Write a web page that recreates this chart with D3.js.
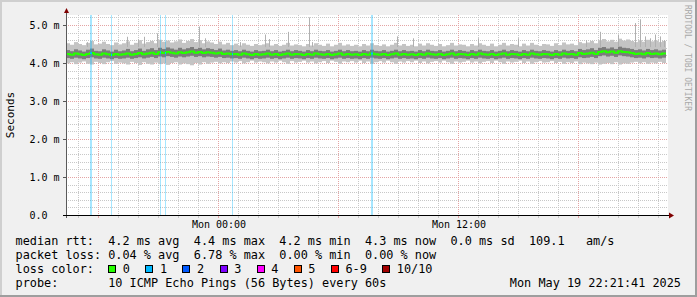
<!DOCTYPE html>
<html>
<head>
<meta charset="utf-8">
<script src="https://cdn.jsdelivr.net/npm/d3@7"></script>
<style>
  html, body { margin: 0; padding: 0; background: #f0f0f0; }
  svg { display: block; }
  text { font-family: "DejaVu Sans Mono", monospace; white-space: pre; }
</style>
</head>
<body>
<svg id="chart" width="697" height="297"></svg>
<script>
// one sample every 12 minutes, 150 samples = 30 hours
var startTime = Date.UTC(2025, 4, 18, 16, 24);
var stepMin = 12;

var median = [
  4.24,4.22,4.25,4.23,4.21,4.24,4.26,4.23,4.22,4.25,
  4.23,4.21,4.24,4.22,4.23,4.25,4.22,4.24,4.26,4.23,
  4.25,4.27,4.24,4.28,4.26,4.29,4.27,4.25,4.28,4.26,
  4.28,4.30,4.27,4.29,4.26,4.28,4.27,4.25,4.27,4.24,
  4.25,4.23,4.24,4.22,4.25,4.23,4.21,4.24,4.22,4.23,
  4.25,4.22,4.24,4.21,4.23,4.25,4.22,4.24,4.23,4.21,
  4.24,4.22,4.25,4.23,4.22,4.24,4.21,4.23,4.25,4.22,
  4.24,4.22,4.23,4.21,4.24,4.22,4.25,4.23,4.22,4.24,
  4.21,4.23,4.25,4.22,4.24,4.22,4.23,4.21,4.24,4.22,
  4.25,4.23,4.22,4.24,4.21,4.23,4.25,4.22,4.24,4.23,
  4.21,4.24,4.22,4.25,4.23,4.22,4.24,4.21,4.23,4.25,
  4.22,4.24,4.23,4.21,4.24,4.22,4.25,4.23,4.22,4.24,
  4.23,4.21,4.24,4.22,4.25,4.23,4.24,4.22,4.26,4.24,
  4.25,4.27,4.24,4.29,4.31,4.28,4.30,4.27,4.31,4.29,
  4.28,4.26,4.24,4.25,4.23,4.26,4.24,4.25,4.23,4.25
];

var smokeHi = [
  4.52,4.48,4.55,4.50,4.47,4.53,4.58,4.49,4.51,4.56,
  4.50,4.47,4.54,4.49,4.52,4.57,4.48,4.53,4.60,4.51,
  4.55,4.58,4.52,4.61,4.56,4.59,4.54,4.57,4.62,4.53,
  4.58,4.63,4.55,4.60,4.52,4.57,4.54,4.50,4.56,4.49,
  4.53,4.47,4.51,4.46,4.52,4.48,4.45,4.50,4.47,4.49,
  4.52,4.46,4.50,4.45,4.48,4.53,4.46,4.49,4.47,4.44,
  4.50,4.46,4.52,4.48,4.45,4.51,4.44,4.48,4.53,4.46,
  4.49,4.45,4.48,4.44,4.50,4.46,4.52,4.47,4.45,4.49,
  4.44,4.48,4.53,4.46,4.50,4.45,4.48,4.44,4.51,4.46,
  4.52,4.48,4.45,4.50,4.44,4.47,4.53,4.46,4.49,4.48,
  4.44,4.50,4.46,4.52,4.48,4.45,4.51,4.44,4.48,4.53,
  4.46,4.50,4.48,4.44,4.51,4.46,4.53,4.48,4.45,4.50,
  4.49,4.45,4.52,4.47,4.54,4.49,4.51,4.47,4.55,4.52,
  4.54,4.58,4.52,4.60,4.63,4.57,4.61,4.56,4.64,4.59,
  4.62,4.58,4.55,4.60,4.56,4.61,4.57,4.59,4.55,4.58
];

var smokeLo = [
  3.99,4.02,3.97,4.01,4.04,3.98,3.96,4.03,4.00,3.97,
  4.02,4.05,3.98,4.01,3.99,3.96,4.03,4.00,3.95,4.02,
  3.98,3.96,4.01,3.97,3.99,3.95,4.00,4.02,3.96,3.99,
  3.97,3.94,4.00,3.96,4.02,3.98,4.01,4.03,3.99,4.02,
  4.00,4.04,4.01,4.05,3.99,4.02,4.06,4.01,4.04,4.02,
  3.99,4.04,4.01,4.06,4.02,3.98,4.05,4.01,4.03,4.06,
  4.01,4.04,3.99,4.02,4.05,4.00,4.06,4.03,3.98,4.04,
  4.02,4.05,4.01,4.06,4.00,4.04,3.98,4.02,4.05,4.01,
  4.06,4.02,3.98,4.04,4.01,4.05,4.02,4.06,4.00,4.04,
  3.99,4.03,4.05,4.01,4.06,4.02,3.98,4.04,4.01,4.03,
  4.06,4.01,4.04,3.99,4.03,4.05,4.00,4.06,4.02,3.98,
  4.04,4.01,4.03,4.06,4.00,4.04,3.98,4.02,4.05,4.01,
  4.02,4.05,4.00,4.03,3.98,4.02,4.00,4.04,3.97,4.01,
  3.99,3.97,4.01,3.96,3.98,4.00,3.97,4.02,3.96,3.99,
  3.98,4.01,4.03,3.99,4.02,3.98,4.01,3.99,4.03,4.00
];

var coreHi = [
  4.34,4.31,4.36,4.33,4.30,4.35,4.38,4.32,4.31,4.36,
  4.33,4.30,4.35,4.31,4.33,4.37,4.31,4.34,4.38,4.32,
  4.36,4.39,4.34,4.40,4.37,4.41,4.38,4.35,4.40,4.36,
  4.39,4.42,4.37,4.40,4.36,4.39,4.37,4.34,4.38,4.33,
  4.35,4.32,4.34,4.31,4.35,4.32,4.30,4.34,4.31,4.32,
  4.35,4.31,4.34,4.30,4.32,4.35,4.31,4.34,4.32,4.30,
  4.34,4.31,4.35,4.32,4.31,4.34,4.30,4.32,4.35,4.31,
  4.34,4.31,4.32,4.30,4.34,4.31,4.35,4.32,4.31,4.34,
  4.30,4.32,4.35,4.31,4.34,4.31,4.32,4.30,4.34,4.31,
  4.35,4.32,4.31,4.34,4.30,4.32,4.35,4.31,4.34,4.32,
  4.30,4.34,4.31,4.35,4.32,4.31,4.34,4.30,4.32,4.35,
  4.31,4.34,4.32,4.30,4.34,4.31,4.35,4.32,4.31,4.34,
  4.32,4.30,4.34,4.31,4.35,4.32,4.34,4.31,4.37,4.34,
  4.36,4.39,4.34,4.40,4.42,4.38,4.41,4.37,4.43,4.40,
  4.39,4.37,4.34,4.36,4.33,4.37,4.34,4.36,4.33,4.35
];

var coreLo = [
  4.13,4.11,4.14,4.12,4.10,4.13,4.15,4.12,4.11,4.14,
  4.12,4.10,4.13,4.11,4.12,4.14,4.11,4.13,4.15,4.12,
  4.14,4.16,4.13,4.17,4.15,4.18,4.16,4.14,4.17,4.15,
  4.17,4.19,4.16,4.18,4.15,4.17,4.16,4.14,4.16,4.13,
  4.14,4.12,4.13,4.11,4.14,4.12,4.10,4.13,4.11,4.12,
  4.14,4.11,4.13,4.10,4.12,4.14,4.11,4.13,4.12,4.10,
  4.13,4.11,4.14,4.12,4.11,4.13,4.10,4.12,4.14,4.11,
  4.13,4.11,4.12,4.10,4.13,4.11,4.14,4.12,4.11,4.13,
  4.10,4.12,4.14,4.11,4.13,4.11,4.12,4.10,4.13,4.11,
  4.14,4.12,4.11,4.13,4.10,4.12,4.14,4.11,4.13,4.12,
  4.10,4.13,4.11,4.14,4.12,4.11,4.13,4.10,4.12,4.14,
  4.11,4.13,4.12,4.10,4.13,4.11,4.14,4.12,4.11,4.13,
  4.12,4.10,4.13,4.11,4.14,4.12,4.13,4.11,4.15,4.13,
  4.14,4.16,4.13,4.18,4.20,4.17,4.19,4.16,4.20,4.18,
  4.17,4.15,4.13,4.14,4.12,4.15,4.13,4.14,4.12,4.14
];

// single outlier pings (minutes after start, ms)
var spikeMin = [63, 183, 216, 234, 273, 399, 417, 522, 597, 609, 666, 729, 738, 993, 1041,
                1236, 1356, 1560, 1602, 1656, 1707, 1722, 1737, 1752, 1767, 1782, 1794];
var spikeMs  = [4.55, 4.69, 4.62, 4.69, 4.78, 4.96, 4.65, 4.55, 4.75, 4.63, 4.82, 5.20, 4.55, 4.70, 4.65,
                4.65, 4.65, 4.60, 4.82, 4.75, 5.05, 5.15, 4.70, 4.65, 4.75, 4.70, 4.60];

// 3 minute steps with lost pings
var lossMin = [72, 75, 135, 282, 297, 498, 915, 918];
var lossCnt = [1, 1, 1, 1, 1, 1, 1, 1];

var lossLabels = ['0', '1', '2', '3', '4', '5', '6-9', '10/10'];
var lossColors = ['#26ff00', '#00b8ff', '#0059ff', '#7e00ff', '#ff00ff', '#ff5500', '#ff0000', '#a10000'];

var yTicks = [0, 1, 2, 3, 4, 5];

var legendRows = [
  'median rtt:  4.2 ms avg  4.4 ms max  4.2 ms min  4.3 ms now  0.0 ms sd  109.1   am/s',
  'packet loss: 0.04 % avg  6.78 % max  0.00 % min  0.00 % now',
  'loss color:',
  'probe:       10 ICMP Echo Pings (56 Bytes) every 60s'
];
var stamp = 'Mon May 19 22:21:41 2025';

var svg = d3.select('#chart');
var W = 697, H = 297;
var pLeft = 66, pRight = 666, pTop = 15, pBottom = 215;

var minute = 60000;
var endTime = startTime + median.length * stepMin * minute;

var x = d3.scaleUtc()
    .domain([new Date(startTime), new Date(endTime)])
    .range([pLeft, pRight]);

var y = d3.scaleLinear()
    .domain([0, 200 / 38])
    .range([pBottom, pTop]);

function tAt(i) { return new Date(startTime + i * stepMin * minute); }
function tMin(m) { return new Date(startTime + m * minute); }

// frame
svg.append('rect').attr('width', W).attr('height', H).attr('fill', '#f0f0f0');
svg.append('rect').attr('x', 0).attr('y', 0).attr('width', W).attr('height', 2).attr('fill', '#cfcfcf');
svg.append('rect').attr('x', 0).attr('y', 0).attr('width', 2).attr('height', H).attr('fill', '#cfcfcf');
svg.append('rect').attr('x', 0).attr('y', H - 2).attr('width', W).attr('height', 2).attr('fill', '#9e9e9e');
svg.append('rect').attr('x', W - 2).attr('y', 0).attr('width', 2).attr('height', H).attr('fill', '#9e9e9e');

// canvas
svg.append('rect')
    .attr('x', pLeft).attr('y', pTop)
    .attr('width', pRight - pLeft + 2).attr('height', pBottom - pTop)
    .attr('fill', '#ffffff');

// grid
var grid = svg.append('g');
var minorY = d3.range(0.2, 5.21, 0.2).filter(function(v) { return Math.abs(v - Math.round(v)) > 0.01; });
grid.selectAll('.hminor').data(minorY).enter().append('line')
    .attr('x1', pLeft).attr('x2', pRight + 2)
    .attr('y1', function(d) { return Math.round(y(d)) + 0.5; })
    .attr('y2', function(d) { return Math.round(y(d)) + 0.5; })
    .attr('stroke', '#c8c8c8').attr('stroke-dasharray', '1,1');

var hours = x.ticks(d3.utcHour.every(1));
var sixHours = x.ticks(d3.utcHour.every(6));
grid.selectAll('.vminor').data(hours).enter().append('line')
    .attr('x1', function(d) { return Math.round(x(d)) + 0.5; })
    .attr('x2', function(d) { return Math.round(x(d)) + 0.5; })
    .attr('y1', pTop).attr('y2', pBottom + 2)
    .attr('stroke', '#c8c8c8').attr('stroke-dasharray', '1,1');

grid.selectAll('.hmajor').data(yTicks.slice(1)).enter().append('line')
    .attr('x1', pLeft).attr('x2', pRight + 2)
    .attr('y1', function(d) { return Math.round(y(d)) + 0.5; })
    .attr('y2', function(d) { return Math.round(y(d)) + 0.5; })
    .attr('stroke', '#e4a4a4').attr('stroke-dasharray', '1,1');
grid.selectAll('.vmajor').data(sixHours).enter().append('line')
    .attr('x1', function(d) { return Math.round(x(d)) + 0.5; })
    .attr('x2', function(d) { return Math.round(x(d)) + 0.5; })
    .attr('y1', pTop).attr('y2', pBottom + 3)
    .attr('stroke', '#e4a4a4').attr('stroke-dasharray', '1,1');

// smoke
var colW = x(tAt(1)) - x(tAt(0));
var smoke = svg.append('g');
smoke.selectAll('.outer').data(median).enter().append('rect')
    .attr('x', function(d, i) { return x(tAt(i)); })
    .attr('width', colW)
    .attr('y', function(d, i) { return y(smokeHi[i]); })
    .attr('height', function(d, i) { return y(smokeLo[i]) - y(smokeHi[i]); })
    .attr('fill', '#c4c4c4');
smoke.selectAll('.core').data(median).enter().append('rect')
    .attr('x', function(d, i) { return x(tAt(i)); })
    .attr('width', colW)
    .attr('y', function(d, i) { return y(coreHi[i]); })
    .attr('height', function(d, i) { return y(coreLo[i]) - y(coreHi[i]); })
    .attr('fill', '#7c7c7c');

smoke.selectAll('.spike').data(spikeMin).enter().append('line')
    .attr('x1', function(d) { return Math.round(x(tMin(d))) + 0.5; })
    .attr('x2', function(d) { return Math.round(x(tMin(d))) + 0.5; })
    .attr('y1', y(4.42))
    .attr('y2', function(d, i) { return y(spikeMs[i]); })
    .attr('stroke', '#b0b0b0');

// loss stripes
var stripes = svg.append('g');
stripes.selectAll('rect').data(lossMin).enter().append('rect')
    .attr('x', function(d) { return Math.round(x(tMin(d))); })
    .attr('width', 1)
    .attr('y', pTop).attr('height', pBottom - pTop)
    .attr('fill', function(d, i) { return lossColors[lossCnt[i]]; })
    .attr('opacity', 0.35);

// median line
var line = d3.line()
    .x(function(d, i) { return x(tAt(i)); })
    .y(function(d) { return y(d); })
    .curve(d3.curveStepAfter);
svg.append('path')
    .datum(median.concat([median[median.length - 1]]))
    .attr('d', line)
    .attr('fill', 'none')
    .attr('stroke', lossColors[0])
    .attr('stroke-width', 2);

svg.append('g').selectAll('rect').data(lossMin).enter().append('rect')
    .attr('x', function(d) { return Math.round(x(tMin(d))); })
    .attr('width', 1)
    .attr('y', function(d) { return y(median[Math.floor(d / stepMin)]) - 1; })
    .attr('height', 2)
    .attr('fill', function(d, i) { return lossColors[lossCnt[i]]; });

// axes
var axes = svg.append('g');
axes.selectAll('.ytick').data(yTicks).enter().append('line')
    .attr('x1', pLeft - 3).attr('x2', pLeft)
    .attr('y1', function(d) { return Math.round(y(d)) + 0.5; })
    .attr('y2', function(d) { return Math.round(y(d)) + 0.5; })
    .attr('stroke', '#555');
axes.selectAll('.xtick').data(hours).enter().append('line')
    .attr('x1', function(d) { return Math.round(x(d)) + 0.5; })
    .attr('x2', function(d) { return Math.round(x(d)) + 0.5; })
    .attr('y1', pBottom).attr('y2', pBottom + 3)
    .attr('stroke', function(d) { return d.getUTCHours() % 6 === 0 ? '#e4a4a4' : '#c8c8c8'; });

axes.append('line')
    .attr('x1', pLeft + 0.5).attr('x2', pLeft + 0.5)
    .attr('y1', pBottom + 3).attr('y2', 11)
    .attr('stroke', '#5a5a5a');
axes.append('line')
    .attr('x1', pLeft - 3).attr('x2', pRight + 4)
    .attr('y1', pBottom + 0.5).attr('y2', pBottom + 0.5)
    .attr('stroke', '#000');
axes.append('path').attr('d', 'M64,13L66.5,8L69,13Z').attr('fill', '#7f0000');
axes.append('path').attr('d', 'M669,212.5L674,215.5L669,218.5Z').attr('fill', '#7f0000');

var yFmt = function(v) { return v === 0 ? '0.0' : d3.format('.1f')(v) + ' m'; };
axes.selectAll('.ylab').data(yTicks).enter().append('text')
    .attr('x', 29.5)
    .attr('y', function(d) { return y(d) + 3.5; })
    .attr('font-size', '10px')
    .attr('fill', '#000')
    .text(yFmt);

var halfDays = x.ticks(d3.utcHour.every(12));
axes.selectAll('.xlab').data(halfDays).enter().append('text')
    .attr('x', function(d) { return x(d) + 1; })
    .attr('y', 228)
    .attr('font-size', '10px')
    .attr('text-anchor', 'middle')
    .attr('fill', '#000')
    .text(d3.utcFormat('%a %H:%M'));

svg.append('text')
    .attr('transform', 'translate(14,115) rotate(-90)')
    .attr('text-anchor', 'middle')
    .attr('font-size', '11px')
    .text('Seconds');

svg.append('text')
    .attr('transform', 'translate(685,5) rotate(90)')
    .attr('font-size', '8px')
    .attr('fill', '#a8a8a8')
    .text('RRDTOOL / TOBI OETIKER');

// legend
var fs = 11.85, cw = fs * 0.602, lx = 15.5;
var rowY = [245, 259, 273, 287];
var legend = svg.append('g').attr('font-size', fs + 'px').attr('fill', '#000');
legend.selectAll('.row').data(legendRows).enter().append('text')
    .attr('x', lx)
    .attr('y', function(d, i) { return rowY[i]; })
    .text(function(d) { return d; });
legend.append('text')
    .attr('x', 681).attr('y', rowY[3])
    .attr('text-anchor', 'end')
    .text(stamp);

var pos = lx + 13 * cw;
lossLabels.forEach(function(lab, i) {
  legend.append('rect')
      .attr('x', Math.round(pos) + 0.5).attr('y', 265.5)
      .attr('width', 7).attr('height', 7)
      .attr('fill', lossColors[i])
      .attr('stroke', '#000');
  legend.append('text')
      .attr('x', pos + 2.05 * cw).attr('y', rowY[2])
      .text(lab);
  pos += (lab.length + 4.2) * cw;
});
</script>
</body>
</html>
